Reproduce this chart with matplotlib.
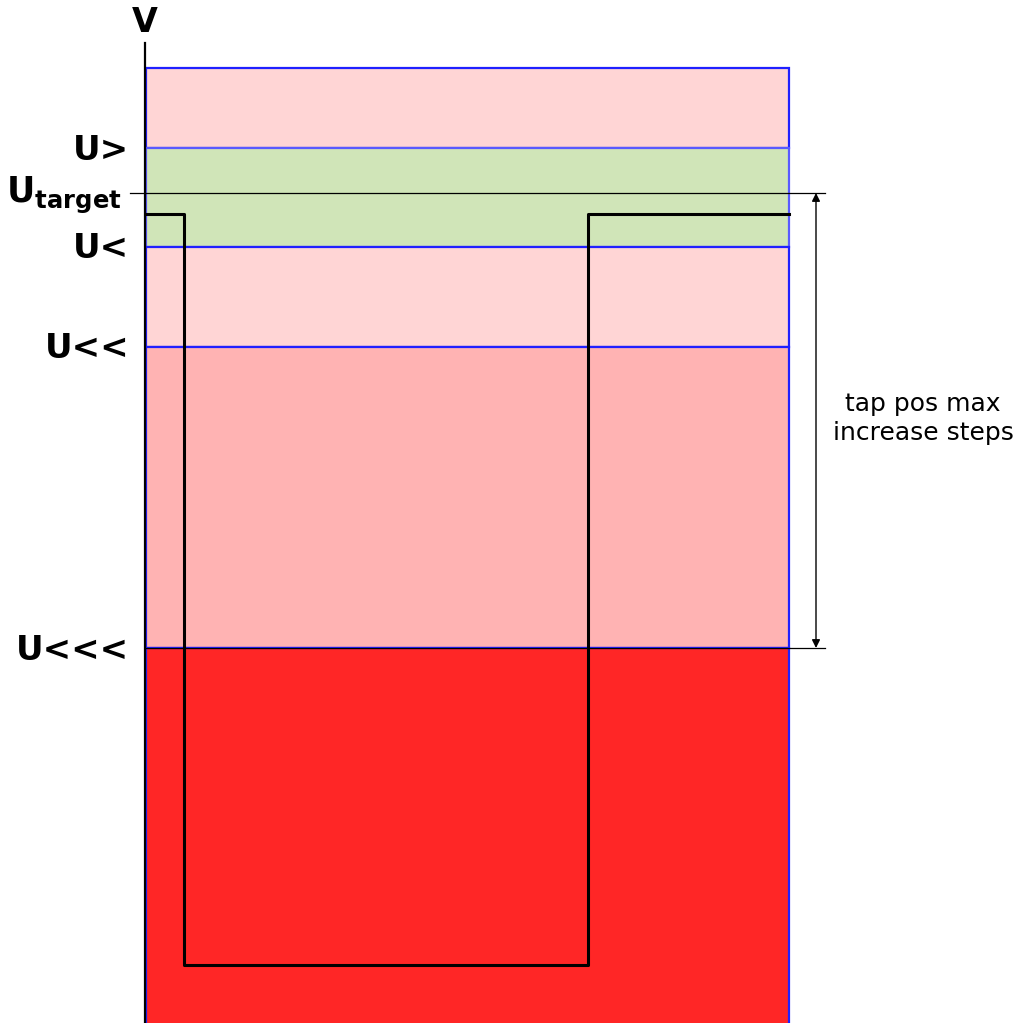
import matplotlib.pyplot as plt
import matplotlib.patches as mpatches

# voltage thresholds (arbitrary units, height above the bottom of the chart)
level_names = ['U>', 'U<', 'U<<', 'U<<<']
level_values = [875, 776, 676, 375]
u_target = 830
v_top = 955
v_bottom = 0

# band fills from top to bottom
band_colors = ['#ffd5d5', '#d0e5b8', '#ffd5d5', '#ffb3b3', '#ff2626']

# voltage trace (time, voltage)
trace_t = [0, 38, 38, 442, 442, 643]
trace_v = [809, 809, 58, 58, 809, 809]
t_end = 643

fig = plt.figure(figsize=(10.16, 10.23), dpi=100)
ax = fig.add_axes([0, 0, 1, 1])
ax.set_xlim(-146, 870)
ax.set_ylim(0, 1023)
ax.axis('off')

# colored bands
edges = [v_top] + level_values + [v_bottom - 20]
for i, col in enumerate(band_colors):
    lo, hi = edges[i + 1], edges[i]
    ec = '#5a5aff' if i == 1 else '#2020ff'
    ax.add_patch(mpatches.Rectangle((0, lo), t_end, hi - lo, facecolor=col,
                                    edgecolor=ec, linewidth=1.6, zorder=1))

# vertical axis
ax.plot([-1, -1], [v_bottom - 5, 980], color='black', linewidth=1.6, zorder=4)
ax.text(-1, 984, 'V', fontsize=24, fontweight='bold', ha='center', va='bottom')

# threshold labels
for name, val in zip(level_names, level_values):
    ax.text(-17, val - 2, name, fontsize=24.5, fontweight='bold', ha='right', va='center')
ax.text(-24, u_target - 2, r'$\mathbf{U_{target}}$', fontsize=25, ha='right',
        va='center', math_fontfamily='dejavusans')

# target line and U<<< extension
ax.plot([-16, 679], [u_target, u_target], color='black', linewidth=0.9, zorder=3)
ax.plot([0, 679], [level_values[-1], level_values[-1]], color='black', linewidth=0.9, zorder=3)

# voltage trace
ax.plot(trace_t, trace_v, color='black', linewidth=2.2, zorder=3)

# span arrow
ax.annotate('', xy=(670, u_target), xytext=(670, level_values[-1]),
            arrowprops=dict(arrowstyle='<|-|>', color='black', linewidth=1.0,
                            mutation_scale=12, shrinkA=0, shrinkB=0))
ax.text(777, (u_target + level_values[-1]) / 2 + 2, 'tap pos max\nincrease steps',
        fontsize=18, ha='center', va='center', linespacing=1.25)

fig.savefig('out.png', dpi=100)
